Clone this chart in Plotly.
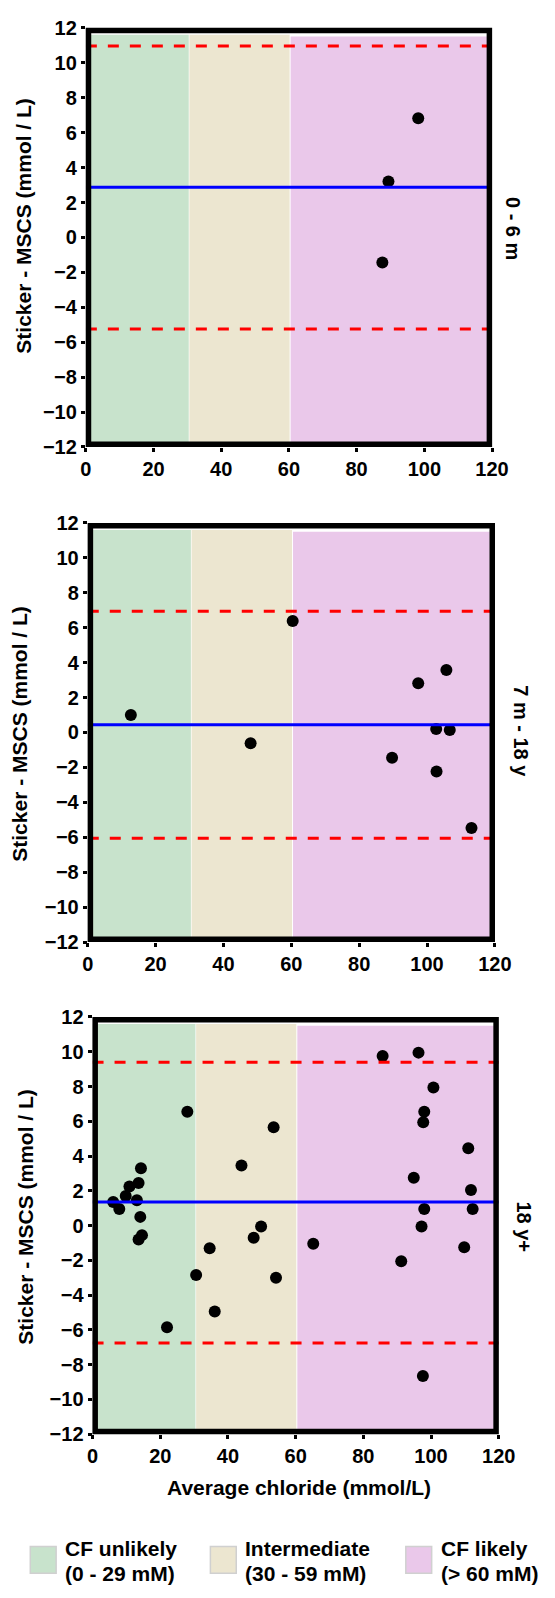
import plotly.graph_objects as go

# page body has an 8px default margin; figure is sized/offset to compensate
PAGE_W, PAGE_H = 555, 1598
OFF = 8
W, H = PAGE_W - OFF, PAGE_H - OFF

# ---------------- data ----------------
panel_labels = ["0 - 6 m", "7 m - 18 y", "18 y+"]

x_0_6m = [87.6, 89.4, 98.2]
y_0_6m = [-1.43, 3.21, 6.82]
mean_0_6m = 2.87
loa_0_6m = [-5.24, 10.96]

x_7m_18y = [12.7, 48.0, 60.4, 97.4, 105.7, 102.7, 106.7, 89.7, 102.8, 113.1]
y_7m_18y = [1.0, -0.62, 6.39, 2.82, 3.58, 0.2, 0.14, -1.44, -2.24, -5.47]
mean_7m_18y = 0.44
loa_7m_18y = [-6.06, 6.94]

x_18y = [6.1, 7.9, 9.8, 10.9, 13.6, 13.1, 14.3, 14.1, 13.6, 14.6,
         22.0, 28.0, 30.6, 34.6, 36.1, 44.0, 47.6, 49.8, 53.5, 54.2,
         65.2, 85.7, 96.3, 100.7, 98.0, 97.7, 94.9, 98.0, 97.2, 91.2,
         97.6, 111.0, 111.8, 112.3, 109.8]
y_18y = [1.35, 0.95, 1.7, 2.25, 2.45, 1.45, 3.3, 0.5, -0.8, -0.55,
         -5.85, 6.55, -2.85, -1.3, -4.95, 3.45, -0.7, -0.05, 5.65, -3.0,
         -1.05, 9.75, 9.95, 7.95, 6.55, 5.95, 2.75, 0.95, -0.05, -2.05,
         -8.65, 4.45, 2.05, 0.95, -1.25]
mean_18y = 1.35
loa_18y = [-6.75, 9.4]

region_names = ["CF unlikely", "Intermediate", "CF likely"]
region_ranges = ["(0 - 29 mM)", "(30 - 59 mM)", "(> 60 mM)"]
region_x = [(0, 30.4), (30.6, 60.2), (60.5, 118.5)]
region_colors = ["#C8E3CC", "#ECE6D0", "#EAC8EA"]

x_ticks = [0, 20, 40, 60, 80, 100, 120]
y_ticks = list(range(-12, 13, 2))

x_title = "Average chloride (mmol/L)"
y_title = "Sticker - MSCS (mmol / L)"

# ---------------- layout geometry (page pixels) ----------------
panels = [
    dict(x=x_0_6m, y=y_0_6m, mean=mean_0_6m, loa=loa_0_6m,
         px=(83, 507), py=(17, 442), ytx=18, yty=218, lab=(529, 220)),
    dict(x=x_7m_18y, y=y_7m_18y, mean=mean_7m_18y, loa=loa_7m_18y,
         px=(85, 510), py=(519, 944), ytx=14, yty=733, lab=(537, 730)),
    dict(x=x_18y, y=y_18y, mean=mean_18y, loa=loa_18y,
         px=(90, 514), py=(1020, 1443), ytx=20, yty=1222, lab=(540, 1233)),
]

FONT = "Liberation Sans, Arial, sans-serif"


def fx(px):
    return (px - OFF) / W


def fy(py):
    return 1 - (py - OFF) / H


fig = go.Figure()
shapes = []
annotations = []

for i, p in enumerate(panels, start=1):
    xa = "x" if i == 1 else f"x{i}"
    ya = "y" if i == 1 else f"y{i}"
    fig.add_trace(go.Scatter(
        x=p["x"], y=p["y"], mode="markers", xaxis=xa, yaxis=ya,
        marker=dict(color="black", size=12), showlegend=False,
        hoverinfo="skip"))
    fig.add_trace(go.Scatter(
        x=[0, 120], y=[p["mean"], p["mean"]], mode="lines", xaxis=xa, yaxis=ya,
        line=dict(color="#0000FF", width=3), showlegend=False, hoverinfo="skip"))
    for v in p["loa"]:
        fig.add_trace(go.Scatter(
            x=[0, 120], y=[v, v], mode="lines", xaxis=xa, yaxis=ya,
            line=dict(color="#FF0000", width=3, dash="11px,11px"),
            showlegend=False, hoverinfo="skip"))

    axis_common = dict(showgrid=False, zeroline=False, showline=False,
                       ticks="outside", ticklen=4, tickwidth=3, tickcolor="black",
                       tickfont=dict(family=FONT, size=20, color="black", weight="bold"))
    fig.update_layout(**{
        ("xaxis" if i == 1 else f"xaxis{i}"): dict(
            domain=[fx(p["px"][0]), fx(p["px"][1])], anchor=ya,
            range=[0, 120], tickvals=x_ticks, **axis_common),
        ("yaxis" if i == 1 else f"yaxis{i}"): dict(
            domain=[fy(p["py"][1]), fy(p["py"][0])], anchor=xa,
            range=[-12, 12], tickvals=y_ticks, **axis_common),
    })

    for (x0, x1), col in zip(region_x, region_colors):
        shapes.append(dict(type="rect", xref=xa, yref=ya, x0=x0, x1=x1,
                           y0=-12, y1=11.6 if col != region_colors[2] else 11.5,
                           fillcolor=col, line=dict(width=0), layer="below"))
    wpx = p["px"][1] - p["px"][0]
    hpx = p["py"][1] - p["py"][0]
    lw = 5.5
    shapes.append(dict(type="rect", xref=f"{xa} domain", yref=f"{ya} domain",
                       x0=lw / 2 / wpx, x1=1 - lw / 2 / wpx,
                       y0=lw / 2 / hpx, y1=1 - lw / 2 / hpx,
                       line=dict(color="black", width=lw), layer="above"))

    annotations.append(dict(text=y_title, xref="paper", yref="paper",
                            x=fx(p["ytx"]), y=fy(p["yty"]), textangle=-90,
                            showarrow=False, xanchor="center", yanchor="middle",
                            font=dict(family=FONT, size=21, color="black", weight="bold")))
    annotations.append(dict(text=panel_labels[i - 1], xref="paper", yref="paper",
                            x=fx(p["lab"][0]), y=fy(p["lab"][1]), textangle=90,
                            showarrow=False, xanchor="center", yanchor="middle",
                            font=dict(family=FONT, size=20, color="black", weight="bold")))

annotations.append(dict(text=x_title, xref="paper", yref="paper",
                        x=fx(305), y=fy(1497), showarrow=False,
                        xanchor="center", yanchor="middle",
                        font=dict(family=FONT, size=21, color="black", weight="bold")))

leg_sq_x = [25, 213, 417]
leg_txt_x = [60, 248, 453]
for name, rng, col, sx, tx in zip(region_names, region_ranges, region_colors,
                                  leg_sq_x, leg_txt_x):
    shapes.append(dict(type="rect", xref="paper", yref="paper",
                       x0=fx(sx), x1=fx(sx + 27), y0=fy(1584), y1=fy(1557),
                       fillcolor=col, line=dict(color="#D0D0D0", width=1.5)))
    annotations.append(dict(text=name, xref="paper", yref="paper",
                            x=fx(tx), y=fy(1559), showarrow=False,
                            xanchor="left", yanchor="middle", borderpad=0,
                            font=dict(family=FONT, size=21, color="black", weight="bold")))
    annotations.append(dict(text=rng, xref="paper", yref="paper",
                            x=fx(tx), y=fy(1584), showarrow=False,
                            xanchor="left", yanchor="middle", borderpad=0,
                            font=dict(family=FONT, size=21, color="black", weight="bold")))

fig.update_layout(
    width=W, height=H, autosize=False,
    margin=dict(l=0, r=0, t=0, b=0, pad=0),
    paper_bgcolor="white", plot_bgcolor="white",
    shapes=shapes, annotations=annotations, showlegend=False,
)

fig.write_html("out.html")
